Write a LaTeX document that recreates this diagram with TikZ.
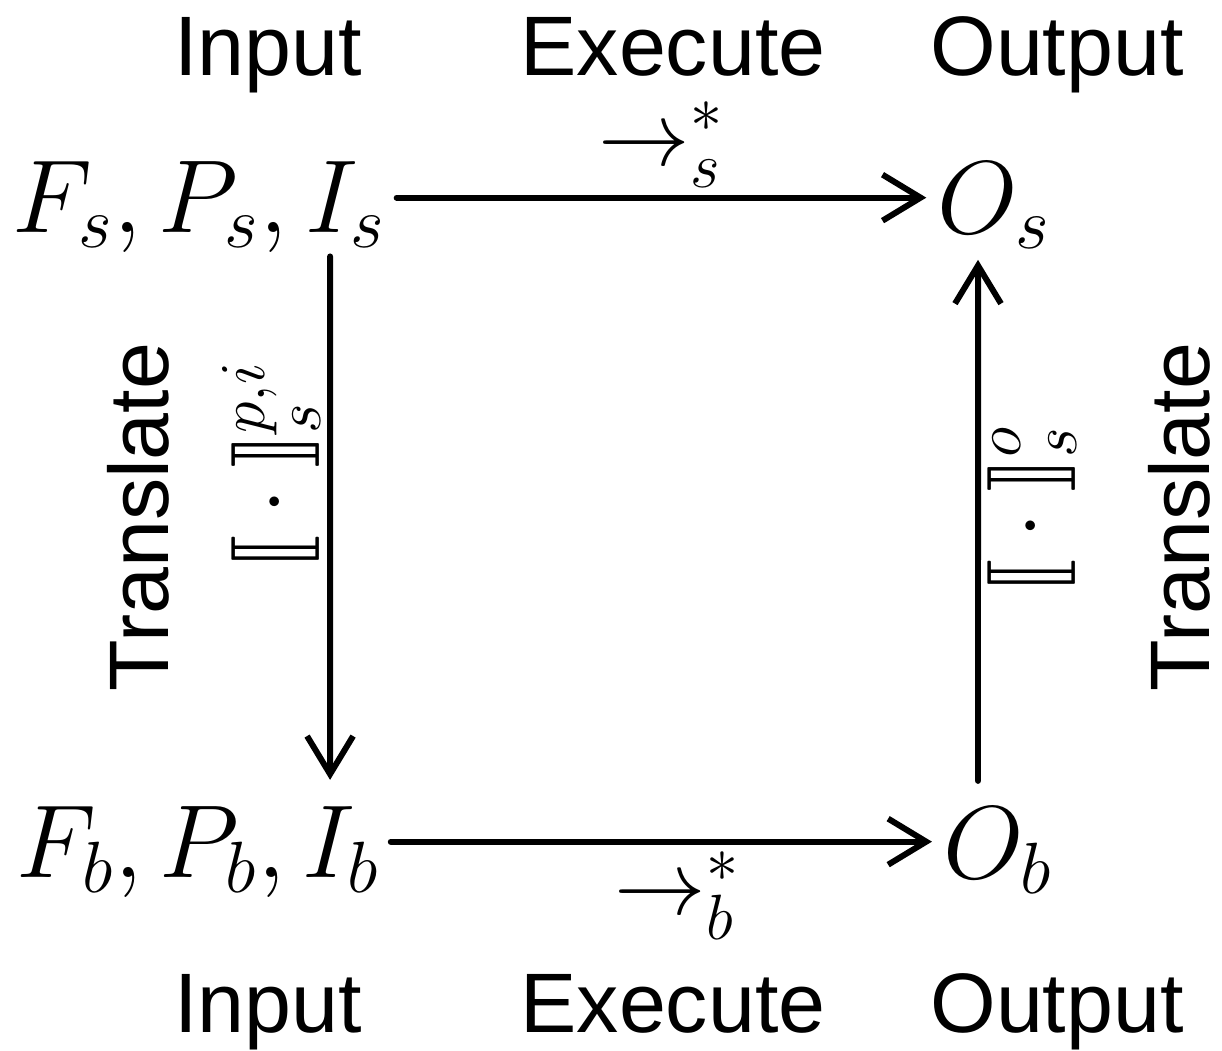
\RequirePackage{fix-cm}
\documentclass[tikz,border=0pt]{standalone}
\usepackage{amsmath,stmaryrd}
\usepackage{fontspec}
\setsansfont{Liberation Sans}
\usetikzlibrary{arrows.meta,positioning}
\tikzset{
  mth/.style={inner sep=3pt, font=\fontsize{29.5}{34}\selectfont},
  lbl/.style={inner sep=2pt, font=\fontsize{26}{30}\selectfont},
  hdr/.style={inner sep=0pt, font=\sffamily\fontsize{24}{28}\selectfont},
  arr/.style={-{Straight Barb[length=3.8mm,width=4.6mm]}, line width=1.7pt, line cap=round},
}

\begin{document}
\begin{tikzpicture}[x=0.01cm, y=-0.01cm]
\useasboundingbox (0,0) rectangle (1222,1050);

% column titles
\node[hdr, anchor=base] (intop) at (268,75) {Input};
\node[hdr, anchor=base] (extop) at (673,75) {Execute};
\node[hdr, anchor=base] (outop) at (1057,75) {Output};
\node[hdr, anchor=base] (inbot) at (268,1032) {Input};
\node[hdr, anchor=base] (exbot) at (673,1032) {Execute};
\node[hdr, anchor=base] (outbot) at (1057,1032) {Output};

\node[hdr, rotate=90] (trleft) at (138,517) {Translate};
\node[hdr, rotate=90] (trright) at (1179,517) {Translate};

% the four corners
\node[mth, anchor=base] (fps) at (199,232) {$F_s, P_s, I_s$};
\node[mth, anchor=base] (os) at (994,233) {$O_s$};
\node[mth, anchor=base] (fpb) at (198,877) {$F_b, P_b, I_b$};
\node[mth, anchor=base] (ob) at (998,878) {$O_b$};

\draw[arr] ([yshift=0.09cm]fps.east) -- ([yshift=0.09cm]fps.east -| os.west)
  node[lbl, pos=0.5, above] (exs) {$\rightarrow^{*}_{s}$};
\draw[arr] ([yshift=0.1cm]fpb.east) -- ([yshift=0.1cm]fpb.east -| ob.west)
  node[lbl, pos=0.53, below] (exb) {$\rightarrow^{*}_{b}$};
\draw[arr] ([xshift=1.31cm,yshift=0.07cm]fps.south) -- ([xshift=1.32cm,yshift=0.15cm]fpb.north)
  node[lbl, pos=0.4, anchor=south, rotate=90] (trin) {$\llbracket{}\cdot{}\rrbracket^{p,i}_{s}$};
\draw[arr] ([xshift=-0.2cm,yshift=0.15cm]ob.north) -- ([xshift=-0.16cm]os.south)
  node[lbl, pos=0.52, anchor=north, rotate=90] (trout) {$\llbracket{}\cdot{}\rrbracket^{o}_{s}$};

\end{tikzpicture}
\end{document}
